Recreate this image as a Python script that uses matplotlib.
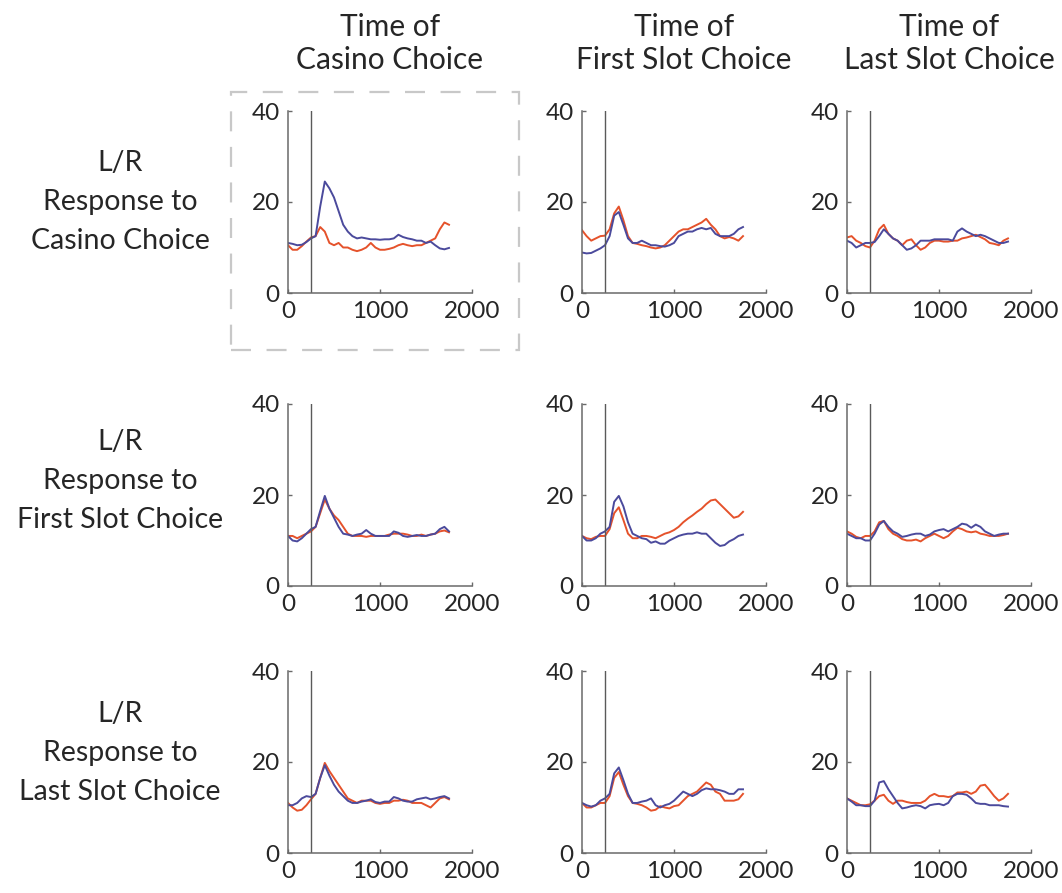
"""L/R response traces, 3x3 panel grid"""
import numpy as np
import matplotlib
matplotlib.use("Agg")
import matplotlib.pyplot as plt
from matplotlib.patches import Rectangle

plt.rcParams['font.family'] = ['Lato', 'DejaVu Sans']

time_ms = np.arange(0, 1800, 50)
event_ms = 250

col_titles = ["Time of\nCasino Choice", "Time of\nFirst Slot Choice", "Time of\nLast Slot Choice"]
row_titles = ["L/R\nResponse to\nCasino Choice", "L/R\nResponse to\nFirst Slot Choice",
              "L/R\nResponse to\nLast Slot Choice"]

# row 1: response to casino choice
blue_11 = [11.0, 10.8, 10.5, 10.6, 11.2, 12.0, 12.5, 19.0, 24.5, 23.0, 21.0, 18.0, 15.0, 13.5, 12.5, 12.0, 12.2, 12.0,
           11.8, 11.8, 11.7, 11.8, 11.8, 12.0, 12.8, 12.3, 12.0, 11.8, 11.5, 11.5, 11.0, 11.3, 10.5, 9.8, 9.6, 9.9]
red_11 = [10.5, 9.5, 9.5, 10.3, 11.3, 12.2, 12.5, 14.5, 13.5, 11.0, 10.5, 11.0, 10.0, 10.0, 9.5, 9.2, 9.5, 10.0,
          11.0, 10.0, 9.5, 9.5, 9.7, 10.0, 10.5, 10.8, 10.5, 10.3, 10.5, 10.5, 11.0, 11.5, 12.0, 14.0, 15.5, 15.0]
blue_12 = [8.9, 8.7, 8.8, 9.3, 9.8, 10.5, 12.5, 17.0, 17.8, 15.0, 12.0, 11.0, 11.0, 11.5, 11.0, 10.5, 10.5, 10.3,
           10.2, 10.5, 11.0, 12.5, 13.0, 13.5, 13.5, 14.0, 14.3, 14.0, 14.3, 13.0, 12.5, 12.5, 12.5, 13.0, 14.0, 14.5]
red_12 = [13.8, 12.5, 11.5, 12.0, 12.5, 12.6, 14.0, 17.5, 19.0, 16.0, 12.5, 11.0, 10.8, 10.5, 10.3, 10.0, 9.8, 10.0,
          10.5, 11.5, 12.5, 13.5, 14.0, 14.0, 14.5, 15.0, 15.5, 16.3, 15.0, 14.0, 12.5, 12.0, 12.3, 12.0, 11.5, 12.5]
blue_13 = [11.5, 11.0, 10.0, 10.5, 11.0, 11.0, 11.2, 12.5, 14.0, 13.0, 12.0, 11.5, 10.5, 9.5, 9.8, 10.5, 11.5, 11.5,
           11.5, 11.8, 11.8, 11.8, 11.8, 11.5, 13.5, 14.2, 13.5, 13.0, 12.5, 12.8, 12.5, 12.0, 11.5, 11.0, 11.0, 11.3]
red_13 = [12.2, 12.5, 11.5, 11.0, 10.3, 10.0, 11.5, 14.0, 15.0, 13.0, 12.0, 11.5, 10.5, 11.5, 11.8, 10.5, 9.5, 10.0,
          11.0, 11.5, 11.5, 11.3, 11.3, 11.5, 11.5, 12.0, 12.2, 12.5, 12.8, 12.3, 11.8, 11.0, 10.8, 10.5, 11.5, 12.0]

# row 2: response to first slot choice
blue_21 = [11.0, 10.0, 9.8, 10.5, 11.5, 12.5, 13.0, 16.5, 19.8, 17.0, 15.0, 13.0, 11.5, 11.3, 11.0, 11.3, 11.5, 12.3,
           11.5, 11.0, 11.0, 11.0, 11.0, 12.0, 11.7, 11.0, 10.8, 11.0, 11.2, 11.0, 11.0, 11.3, 11.5, 12.5, 13.0, 12.0]
red_21 = [11.0, 11.0, 10.5, 11.0, 11.5, 12.0, 13.0, 16.0, 19.0, 17.0, 15.5, 14.5, 13.0, 11.5, 11.0, 11.0, 11.0, 10.8,
          11.0, 11.0, 11.0, 11.0, 11.3, 11.5, 11.5, 11.5, 11.3, 11.0, 11.0, 11.3, 11.0, 11.3, 11.5, 12.0, 12.2, 11.8]
blue_22 = [11.0, 10.0, 10.0, 10.5, 11.5, 12.0, 13.0, 18.5, 19.8, 17.5, 14.0, 11.5, 11.0, 10.5, 10.3, 9.5, 9.8, 9.3,
           9.3, 10.0, 10.5, 11.0, 11.3, 11.5, 11.5, 11.8, 11.5, 11.5, 10.5, 9.5, 8.8, 9.0, 9.8, 10.3, 11.0, 11.3]
red_22 = [11.0, 10.5, 10.3, 10.8, 11.0, 11.0, 12.5, 16.0, 17.3, 14.5, 11.5, 10.5, 10.5, 11.0, 11.0, 10.8, 10.5, 11.0,
          11.5, 11.8, 12.3, 13.0, 14.0, 14.8, 15.5, 16.3, 17.0, 18.0, 18.8, 19.0, 18.0, 17.0, 16.0, 15.0, 15.3, 16.3]
blue_23 = [11.5, 11.0, 10.5, 10.5, 10.0, 10.0, 11.5, 13.5, 14.3, 13.0, 12.0, 11.5, 10.8, 11.0, 11.3, 11.5, 11.5, 11.0,
           11.3, 12.0, 12.3, 12.5, 12.0, 12.5, 13.0, 13.7, 13.5, 12.8, 13.5, 13.0, 12.0, 11.5, 11.0, 11.3, 11.5, 11.5]
red_23 = [12.0, 11.5, 10.8, 10.5, 11.0, 11.0, 12.0, 14.0, 14.3, 12.5, 11.5, 11.0, 10.3, 10.0, 10.0, 10.2, 9.8, 10.5,
          11.0, 11.5, 11.0, 10.5, 11.0, 12.0, 12.8, 12.5, 12.0, 11.8, 12.0, 11.5, 11.3, 11.0, 11.0, 11.0, 11.2, 11.5]

# row 3: response to last slot choice
blue_31 = [10.5, 10.5, 11.0, 12.0, 12.5, 12.3, 13.0, 16.5, 19.3, 17.0, 15.0, 13.5, 12.5, 11.5, 11.0, 11.0, 11.3, 11.5,
           11.8, 11.2, 11.0, 11.3, 11.3, 12.3, 12.0, 11.5, 11.3, 11.3, 11.8, 12.0, 12.2, 11.8, 12.0, 12.3, 12.5, 12.0]
red_31 = [11.0, 10.0, 9.3, 9.5, 10.5, 11.8, 13.0, 16.5, 19.8, 18.0, 16.5, 15.0, 13.5, 12.0, 11.5, 11.0, 11.5, 11.5,
          11.5, 11.0, 10.8, 11.0, 11.0, 11.5, 11.5, 11.7, 11.5, 11.0, 11.0, 11.0, 10.5, 10.0, 11.0, 12.0, 12.3, 11.8]
blue_32 = [11.0, 10.5, 10.2, 10.5, 11.5, 12.0, 13.0, 17.5, 18.8, 16.0, 13.0, 11.0, 11.0, 11.3, 11.5, 12.0, 10.5, 10.0,
           10.5, 10.8, 11.5, 12.5, 13.5, 13.0, 12.5, 13.0, 13.8, 14.2, 14.0, 14.0, 13.8, 13.5, 13.0, 13.0, 14.0, 14.0]
red_32 = [11.0, 10.0, 10.0, 10.5, 11.0, 11.0, 12.5, 16.5, 17.8, 15.0, 12.5, 11.0, 10.8, 10.5, 10.0, 9.3, 9.5, 10.3,
          10.0, 9.8, 10.3, 10.5, 11.5, 12.5, 13.0, 13.5, 14.5, 15.5, 15.0, 13.5, 13.0, 11.5, 11.5, 11.5, 11.8, 13.0]
blue_33 = [12.0, 11.3, 10.5, 10.5, 10.3, 10.3, 11.5, 15.5, 15.8, 14.0, 12.5, 11.0, 9.8, 10.0, 10.3, 10.5, 10.3, 9.8,
           10.5, 10.7, 10.8, 10.5, 11.0, 12.5, 13.0, 13.0, 12.8, 12.0, 11.0, 10.8, 10.8, 10.5, 10.5, 10.5, 10.3, 10.2]
red_33 = [12.0, 11.5, 11.0, 10.5, 10.5, 10.7, 11.5, 12.5, 12.8, 11.5, 10.8, 11.5, 11.5, 11.2, 11.0, 11.0, 11.0, 11.5,
          12.5, 13.0, 12.5, 12.5, 12.3, 12.5, 13.3, 13.3, 13.5, 13.0, 13.5, 14.8, 15.0, 13.8, 12.5, 11.5, 12.0, 13.0]

blue_rows = [[blue_11, blue_12, blue_13], [blue_21, blue_22, blue_23], [blue_31, blue_32, blue_33]]
red_rows = [[red_11, red_12, red_13], [red_21, red_22, red_23], [red_31, red_32, red_33]]

BLUE = "#4b4a9c"
RED = "#e5522b"
W, H = 1062, 893
col_left = [288, 582, 847]
row_top = [111, 404, 671]
ax_w, ax_h = 184, 182

fig = plt.figure(figsize=(W / 100, H / 100), dpi=100)

for r in range(3):
    for c in range(3):
        ax = fig.add_axes([col_left[c] / W, 1 - (row_top[r] + ax_h) / H, ax_w / W, ax_h / H])
        ax.plot(time_ms, red_rows[r][c], color=RED, lw=1.4)
        ax.plot(time_ms, blue_rows[r][c], color=BLUE, lw=1.4)
        ax.axvline(event_ms, color="#5a5a5a", lw=1.0)
        ax.set_xlim(0, 2000)
        ax.set_ylim(0, 40)
        ax.set_xticks([0, 1000, 2000])
        ax.set_yticks([0, 20, 40])
        for side in ["top", "right"]:
            ax.spines[side].set_visible(False)
        for side in ["left", "bottom"]:
            ax.spines[side].set_color("#6a6a6a")
            ax.spines[side].set_linewidth(1.1)
        ax.tick_params(direction="in", length=3, width=1, color="#6a6a6a",
                       labelsize=17.5, labelcolor="#262626", pad=6)

for c in range(3):
    x = (col_left[c] + ax_w / 2 + 10) / W
    fig.text(x, 1 - 43.5 / H, col_titles[c], ha="center", va="center", fontsize=21.5,
             color="#262626", linespacing=1.22)

for r, y in enumerate([202, 481, 753]):
    fig.text(120 / W, 1 - y / H, row_titles[r], ha="center", va="center", fontsize=20.5,
             color="#262626", linespacing=1.6)

box = Rectangle((231 / W, 1 - 350 / H), (519 - 231) / W, (350 - 92) / H, transform=fig.transFigure,
                fill=False, edgecolor="#c8c8c8", lw=1.6, linestyle=(0, (9, 7)))
fig.patches.append(box)

fig.savefig("out.png", dpi=100)
